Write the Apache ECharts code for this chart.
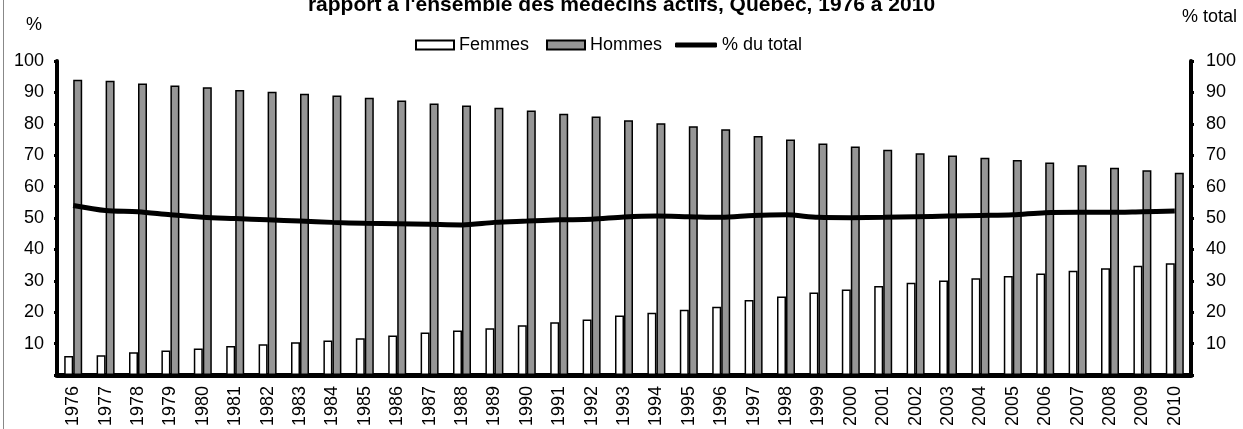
<!DOCTYPE html>
<html>
<head>
<meta charset="utf-8">
<script src="https://cdn.jsdelivr.net/npm/echarts@6/dist/echarts.min.js"></script>
<style>
  html, body { margin: 0; padding: 0; background: #fff; }
  #chart { width: 1243px; height: 429px; }
</style>
</head>
<body>
<div id="chart"></div>
<script>
// années
var annees = ['1976','1977','1978','1979','1980','1981','1982','1983','1984','1985',
  '1986','1987','1988','1989','1990','1991','1992','1993','1994','1995',
  '1996','1997','1998','1999','2000','2001','2002','2003','2004','2005',
  '2006','2007','2008','2009','2010'];
// % femmes
var femmes = [6.0, 6.3, 7.2, 7.8, 8.4, 9.2, 9.8, 10.4, 11.0, 11.7,
  12.6, 13.5, 14.2, 14.9, 15.8, 16.8, 17.7, 18.9, 19.8, 20.8,
  21.7, 23.9, 25.0, 26.3, 27.2, 28.3, 29.4, 30.1, 30.8, 31.5,
  32.3, 33.2, 34.0, 34.8, 35.6];
// % hommes
var hommes = [94.0, 93.7, 92.8, 92.2, 91.6, 90.8, 90.2, 89.6, 89.0, 88.3,
  87.4, 86.5, 85.8, 85.1, 84.2, 83.2, 82.3, 81.1, 80.2, 79.2,
  78.3, 76.1, 75.0, 73.7, 72.8, 71.7, 70.6, 69.9, 69.2, 68.5,
  67.7, 66.8, 66.0, 65.2, 64.4];
// % du total (axe de droite)
var duTotal = [54.0, 52.4, 52.0, 51.0, 50.2, 49.8, 49.4, 49.0, 48.6, 48.3,
  48.2, 48.0, 47.8, 48.6, 49.0, 49.4, 49.6, 50.3, 50.6, 50.4,
  50.2, 50.8, 51.0, 50.2, 50.1, 50.2, 50.4, 50.6, 50.8, 51.0,
  51.7, 51.8, 51.8, 52.0, 52.2];

var police = 'Liberation Sans, Arial, sans-serif';

var myChart = echarts.init(document.getElementById('chart'));
var option = {
  animation: false,
  textStyle: { fontFamily: police },
  title: {
    text: "rapport à l'ensemble des médecins actifs, Québec, 1976 à 2010",
    left: 'center',
    top: -6,
    padding: 0,
    textStyle: { fontFamily: police, fontSize: 21, lineHeight: 22, fontWeight: 'bold', color: '#000' }
  },
  legend: [{
    left: 410,
    top: 31,
    itemWidth: 38,
    itemHeight: 9,
    itemGap: 17,
    icon: 'rect',
    textStyle: { fontFamily: police, fontSize: 18, color: '#000' },
    data: ['Femmes', 'Hommes']
  }, {
    left: 670,
    top: 31,
    itemWidth: 42,
    itemHeight: 5,
    icon: 'roundRect',
    textStyle: { fontFamily: police, fontSize: 18, color: '#000' },
    data: ['% du total']
  }],
  graphic: [
    { type: 'text', left: 26, top: 16, style: { text: '%', font: '18px ' + police, fill: '#000' } },
    { type: 'text', left: 1182, top: 8, style: { text: '% total', font: '18px ' + police, fill: '#000' } },
    { type: 'line', shape: { x1: 3.5, y1: 0, x2: 3.5, y2: 429 }, style: { stroke: '#888', lineWidth: 1 } }
  ],
  grid: { left: 57, right: 52, top: 61, bottom: 52 },
  xAxis: {
    type: 'category',
    data: annees,
    axisLine: { lineStyle: { color: '#000', width: 5 } },
    axisTick: { show: false },
    axisLabel: { rotate: 90, fontSize: 18, color: '#000', margin: 11, interval: 0 }
  },
  yAxis: [{
    type: 'value',
    min: 0, max: 100, interval: 10,
    splitLine: { show: false },
    axisLine: { show: true, lineStyle: { color: '#000', width: 4 } },
    axisTick: { show: true, length: 3, lineStyle: { width: 3, color: '#000' } },
    axisLabel: {
      fontSize: 18, color: '#000', margin: 13,
      formatter: function(v) { return v === 0 ? '' : v; }
    }
  }, {
    type: 'value',
    min: 0, max: 100, interval: 10,
    splitLine: { show: false },
    axisLine: { show: true, lineStyle: { color: '#000', width: 4 } },
    axisTick: { show: true, length: 3, lineStyle: { width: 3, color: '#000' } },
    axisLabel: {
      fontSize: 18, color: '#000', margin: 15,
      formatter: function(v) { return v === 0 ? '' : v; }
    }
  }],
  series: [{
    name: 'Femmes',
    type: 'bar',
    barWidth: 9,
    barGap: 0,
    itemStyle: { color: '#fff', borderColor: '#000', borderWidth: 1.5 },
    data: femmes
  }, {
    name: 'Hommes',
    type: 'bar',
    barWidth: 9,
    itemStyle: { color: '#969696', borderColor: '#000', borderWidth: 1.5 },
    data: hommes
  }, {
    name: '% du total',
    type: 'line',
    yAxisIndex: 1,
    symbol: 'none',
    smooth: 0.3,
    lineStyle: { color: '#000', width: 5 },
    itemStyle: { color: '#000' },
    z: 5,
    data: duTotal
  }]
};
myChart.setOption(option);
</script>
</body>
</html>
